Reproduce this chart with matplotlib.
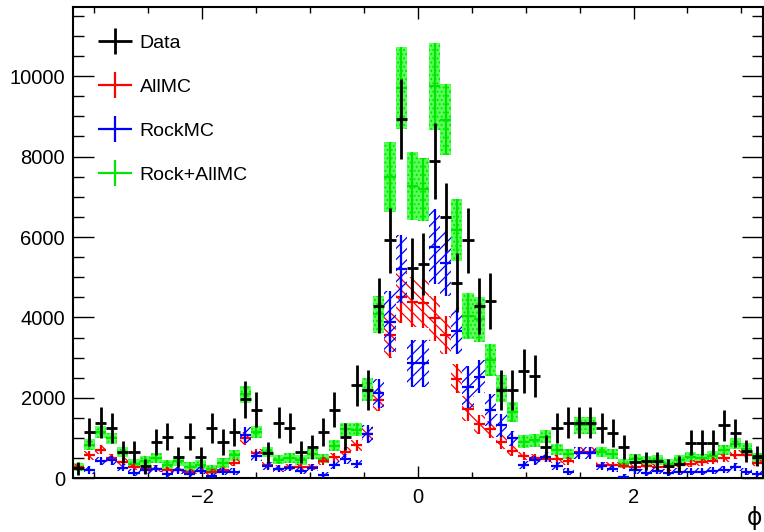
import numpy as np
import matplotlib
matplotlib.use('Agg')
import matplotlib.pyplot as plt
from matplotlib.legend_handler import HandlerErrorbar

plt.rcParams['font.family'] = ['Liberation Sans', 'DejaVu Sans']
plt.rcParams['hatch.linewidth'] = 0.9

# histogram binning: 62 bins in phi
nbins = 62
phi_lo, phi_hi = -3.2, 3.2

data = [250, 1150, 1380, 1260, 655, 655, 300, 905, 1030, 530,
        1030, 530, 1260, 905, 1150, 1965, 1710, 640, 1380, 1260,
        655, 780, 1150, 1710, 1030, 2315, 2200, 4290, 5925, 8940,
        5220, 5330, 7890, 6500, 4865, 5925, 4285, 4415, 2190, 2190,
        2665, 2540, 780, 1260, 1380, 1380, 1380, 1260, 1130, 780,
        405, 430, 430, 300, 365, 880, 880, 880, 1320, 1120,
        685, 550]
data_err = [166, 356, 390, 373, 269, 269, 182, 316, 337, 242,
            337, 242, 373, 316, 356, 465, 434, 266, 390, 373,
            269, 293, 356, 434, 337, 505, 492, 688, 808, 993,
            759, 767, 933, 847, 732, 808, 687, 698, 491, 491,
            542, 529, 293, 373, 390, 390, 390, 373, 353, 293,
            211, 218, 218, 182, 201, 311, 311, 311, 381, 351,
            275, 246]

allmc = [280, 570, 715, 515, 405, 280, 240, 240, 200, 200,
         160, 170, 160, 200, 390, 990, 630, 325, 240, 280,
         280, 280, 430, 520, 655, 820, 1110, 1940, 3560, 4500,
         4390, 4350, 3975, 3560, 2480, 1735, 1340, 1215, 905, 690,
         560, 500, 490, 480, 430, 655, 655, 325, 325, 300,
         280, 300, 280, 270, 325, 365, 400, 440, 505, 590,
         572, 380]
allmc_err = [80, 110, 120, 100, 90, 80, 80, 80, 80, 80,
             75, 75, 75, 80, 90, 160, 110, 85, 80, 80,
             80, 80, 95, 100, 115, 130, 170, 260, 560, 630,
             620, 610, 560, 480, 350, 300, 240, 215, 165, 125,
             105, 100, 95, 95, 90, 115, 115, 85, 85, 80,
             80, 80, 80, 80, 85, 85, 90, 90, 95, 105,
             100, 85]

rockmc = [0, 200, 430, 450, 265, 135, 200, 240, 100, 200,
          115, 185, 50, 160, 160, 1070, 550, 300, 240, 265,
          185, 265, 75, 325, 480, 360, 1100, 2110, 3890, 5200,
          2855, 2855, 5760, 5345, 3670, 2275, 2530, 1690, 1320, 990,
          325, 450, 530, 300, 160, 630, 630, 300, 240, 35,
          200, 135, 185, 135, 160, 165, 160, 185, 210, 270,
          160, 100]
rockmc_err = [0, 95, 110, 110, 95, 90, 90, 95, 85, 90,
              85, 90, 75, 90, 90, 200, 130, 95, 95, 95,
              90, 95, 75, 100, 120, 105, 230, 350, 760, 845,
              580, 580, 935, 800, 570, 520, 415, 400, 290, 190,
              100, 115, 125, 95, 85, 150, 150, 95, 90, 60,
              90, 85, 90, 85, 85, 85, 85, 90, 90, 100,
              85, 75]

rock_allmc = [280, 840, 1150, 990, 655, 365, 430, 515, 325, 430,
              280, 340, 225, 380, 570, 2090, 1150, 655, 465, 515,
              450, 615, 490, 810, 1215, 1210, 2200, 4080, 7490, 9700,
              7270, 7190, 9745, 8915, 6175, 4040, 3950, 2940, 2230, 1650,
              905, 945, 1030, 715, 614, 1320, 1320, 655, 614, 365,
              490, 430, 450, 365, 450, 530, 495, 545, 700, 863,
              740, 510]
rock_allmc_err = [100, 130, 155, 145, 125, 120, 120, 125, 120, 120,
                  115, 120, 110, 120, 130, 210, 155, 125, 120, 125,
                  120, 125, 120, 130, 165, 165, 290, 460, 870, 1015,
                  845, 780, 1090, 885, 775, 580, 560, 395, 340, 250,
                  160, 160, 160, 130, 125, 215, 215, 125, 125, 115,
                  120, 115, 120, 115, 120, 125, 120, 125, 130, 145,
                  135, 120]

edges = np.linspace(phi_lo, phi_hi, nbins + 1)
centers = 0.5 * (edges[:-1] + edges[1:])
binw = edges[1] - edges[0]

fig = plt.figure(figsize=(7.64, 5.32), dpi=100)
ax = fig.add_axes([72.7 / 764, 1 - 478.3 / 532, 690.3 / 764, 471.3 / 532])


def draw_mc(vals, errs, color, hatch, face, z, label):
    vals = np.asarray(vals, float)
    errs = np.asarray(errs, float)
    m = vals > 0
    ax.bar(centers[m], 2 * errs[m], bottom=vals[m] - errs[m], width=binw,
           facecolor=face, edgecolor=color, hatch=hatch, linewidth=0, zorder=z)
    return ax.errorbar(centers[m], vals[m], xerr=binw / 2, yerr=errs[m], fmt='none',
                       ecolor=color, elinewidth=1.6, capsize=0, zorder=z + 0.5,
                       label=label)


h_green = draw_mc(rock_allmc, rock_allmc_err, '#00e600', '....', '#5cff5c', 1, 'Rock+AllMC')
h_red = draw_mc(allmc, allmc_err, '#ff0000', '\\\\\\', 'none', 2, 'AllMC')
h_blue = draw_mc(rockmc, rockmc_err, '#0000ff', '///', 'none', 3, 'RockMC')
h_data = ax.errorbar(centers, data, xerr=binw / 2, yerr=data_err, fmt='none',
                     ecolor='black', elinewidth=2.0, capsize=0, zorder=5, label='Data')

ax.set_xlim(phi_lo, phi_hi)
ax.set_ylim(0, 11720)
ax.set_xticks([-2, 0, 2])
ax.set_xticks(np.arange(-3.0, 3.01, 0.5), minor=True)
ax.set_yticks(np.arange(0, 10001, 2000))
ax.set_yticks(np.arange(0, 11501, 500), minor=True)
ax.tick_params(which='both', direction='in', top=True, right=True, width=1.0,
               labelsize=14.5)
ax.tick_params(axis='x', which='major', length=8.6, pad=7)
ax.tick_params(axis='x', which='minor', length=4.3)
ax.tick_params(axis='y', which='major', length=15, pad=5.5)
ax.tick_params(axis='y', which='minor', length=7.7)
for s in ax.spines.values():
    s.set_linewidth(1.5)

fig.text(755 / 764, 1 - 518 / 532, 'ϕ', fontsize=17, ha='center', va='center',
         family=['DejaVu Sans'])

leg = ax.legend([h_data, h_red, h_blue, h_green],
                ['Data', 'AllMC', 'RockMC', 'Rock+AllMC'],
                handler_map={type(h_data): HandlerErrorbar(xerr_size=0.875, yerr_size=0.67)},
                loc='upper left', bbox_to_anchor=(0.0366, 0.9415), frameon=False,
                fontsize=14, handlelength=1.75, handletextpad=0.4,
                labelspacing=1.35, borderpad=0, borderaxespad=0)

fig.savefig('out.png', dpi=100)
